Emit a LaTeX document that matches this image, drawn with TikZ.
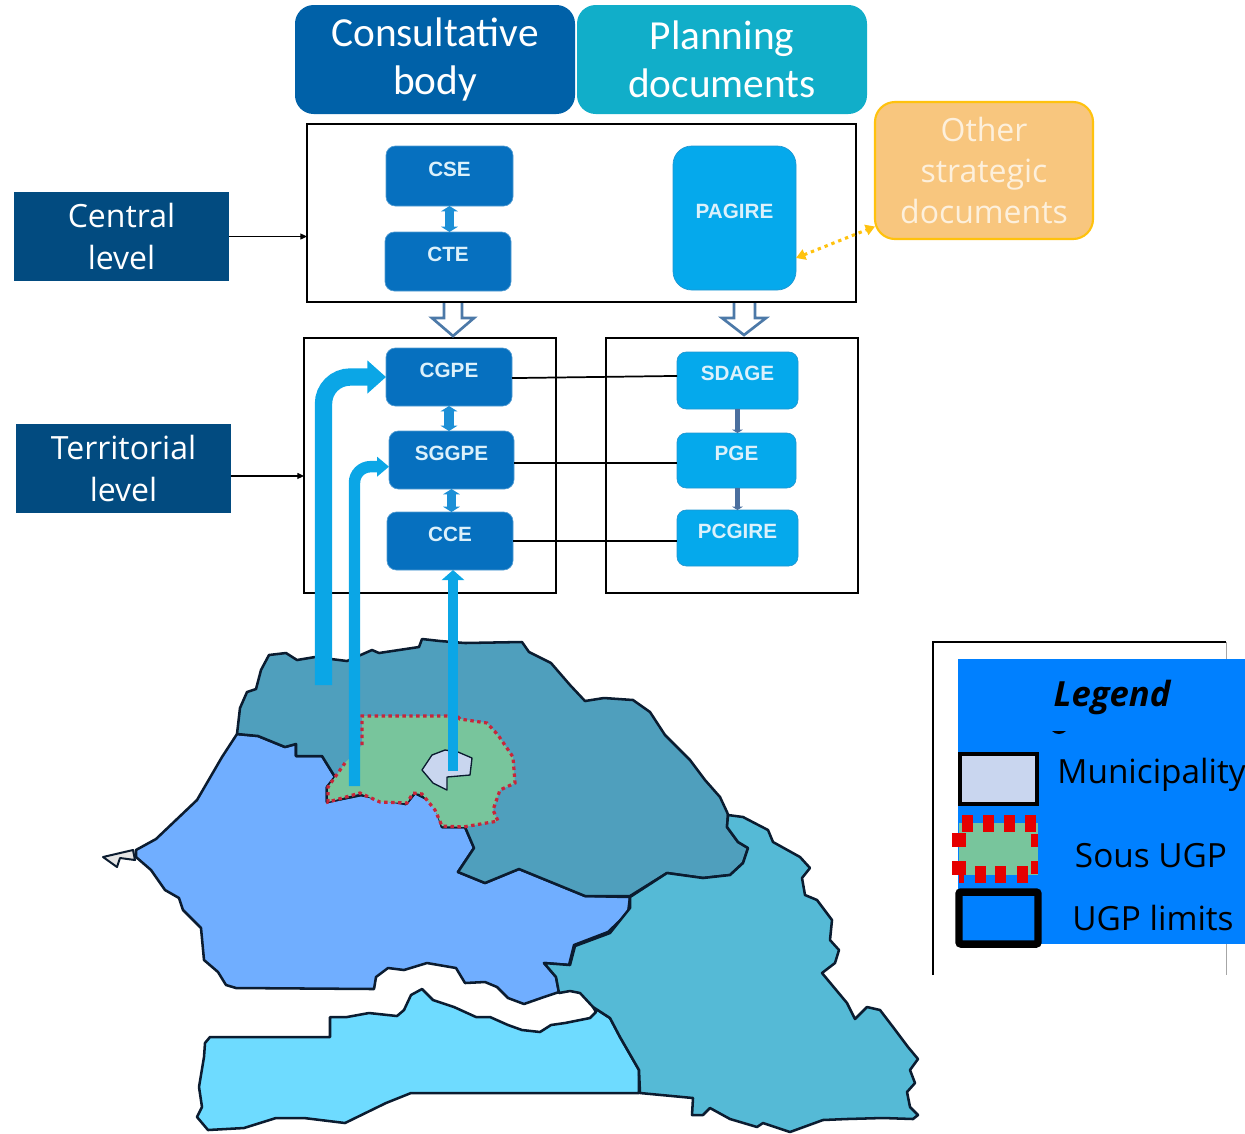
\documentclass[tikz,border=0pt]{standalone}
\usepackage{fontspec}
\setmainfont{Open Sans}
\newfontfamily\hdfont{Carlito}
\newfontfamily\bxfont{Liberation Sans}
\usetikzlibrary{arrows.meta,calc}
\definecolor{hdA}{HTML}{0061A8}
\definecolor{hdB}{HTML}{11AEC9}
\definecolor{lvl}{HTML}{024B80}
\definecolor{boxD}{HTML}{0670BF}
\definecolor{boxL}{HTML}{05A9EC}
\definecolor{bxtxt}{HTML}{DCF1FB}
\definecolor{orgF}{HTML}{F8C67E}
\definecolor{orgD}{HTML}{FFC20E}
\definecolor{orgT}{HTML}{FDF0DC}
\definecolor{barC}{HTML}{0BA6E6}
\definecolor{dblC}{HTML}{1C8FD6}
\definecolor{linkC}{HTML}{4A6F9E}
\definecolor{hollow}{HTML}{4C79A8}
\definecolor{mapN}{HTML}{4F9FBD}
\definecolor{mapW}{HTML}{70AEFF}
\definecolor{mapE}{HTML}{55BAD6}
\definecolor{mapS}{HTML}{6EDBFF}
\definecolor{mapL}{HTML}{0B1C30}
\definecolor{sousG}{HTML}{78C59C}
\definecolor{sousR}{HTML}{C8253A}
\definecolor{muni}{HTML}{C9D6EF}
\definecolor{legB}{HTML}{0080FF}
\definecolor{legR}{HTML}{E60000}
\newcommand{\pxbox}[7]{%
  \pgfmathsetmacro\cxx{(#4+#6)/2}\pgfmathsetmacro\cyy{(#5+#7)/2}%
  \pgfmathsetmacro\wdd{(#6-#4)*0.75}\pgfmathsetmacro\htt{(#7-#5)*0.75}%
  \node[#1,minimum width=\wdd pt,minimum height=\htt pt] (#2) at (\cxx,\cyy) {#3};}
\tikzset{
  allbox/.style={inner sep=0pt,outer sep=0pt,align=center},
  header/.style={allbox,rounded corners=14pt,text=white,font=\hdfont\fontsize{31}{36}\selectfont},
  level/.style={allbox,fill=lvl,text=white,font=\fontsize{24}{31}\selectfont},
  frame/.style={allbox,draw=black,line width=1.6pt},
  darkbox/.style={allbox,fill=boxD,draw=boxD!70!white,line width=.5pt,rounded corners=7pt,text=bxtxt,font=\bxfont\bfseries\fontsize{15.5}{18}\selectfont},
  lightbox/.style={darkbox,fill=boxL,draw=boxL!60!hollow},
  otherbox/.style={allbox,fill=orgF,draw=orgD,line width=1.6pt,rounded corners=15pt,text=orgT,font=\fontsize{24}{31}\selectfont},
  thinarrow/.style={draw=black,line width=.9pt,-{Triangle[length=5pt,width=4.5pt]}},
  hline/.style={draw=black,line width=1.3pt},
  dblarrow/.style={draw=dblC,line width=7pt,{Triangle[length=4pt,width=12.5pt]}-{Triangle[length=4pt,width=12.5pt]}},
  linkarrow/.style={draw=linkC,line width=3.8pt,-{Triangle[length=2.5pt,width=8pt]}},
  hollowarrow/.style={draw=hollow,fill=white,line width=2pt,line join=miter},
  mapline/.style={draw=mapL,line width=1.9pt,line join=round},
  legtext/.style={inner sep=0pt,text=black,font=\fontsize{25}{30}\selectfont},
}
\begin{document}
\begin{tikzpicture}[x=0.75pt,y=-0.75pt]
\useasboundingbox (0,0) rectangle (1245,1133);
% map
\draw[mapline,fill=mapS] (639,1093)--(639,1070)--(620,1037)--(610,1018)--(593,1007)--(596,1012)--(590,1018)--(565,1023)--(551,1025)--(540,1032)--(522,1030)--(508,1025)--(490,1017)--(476,1017)--(454,1007)--(433,1000)--(422,989)--(411,995)--(404,1010)--(397,1016)--(369,1013)--(347,1017)--(330,1017)--(330,1037)--(210,1037)--(205,1043)--(204,1057)--(199,1087)--(202,1107)--(197,1117)--(208,1130)--(244,1128)--(276,1118)--(304,1118)--(345,1123)--(386,1103)--(411,1093)--cycle;
\draw[mapline,fill=mapW] (237,734)--(222,757)--(197,800)--(156,839)--(136,850)--(136,857)--(151,870)--(165,890)--(179,898)--(183,910)--(201,928)--(204,960)--(218,972)--(226,985)--(236,988)--(374,989)--(376,977)--(388,968)--(404,970)--(427,963)--(456,968)--(465,983)--(485,982)--(497,987)--(508,998)--(524,1004)--(544,997)--(559,992)--(556,977)--(544,963)--(569,965)--(574,945)--(608,932)--(628,913)--(630,897)--(585,896)--(519,869)--(485,883)--(458,872)--(474,848)--(465,827)--(442,827)--(435,803)--(415,793)--(406,804)--(361,795)--(327,802)--(327,787)--(335,777)--(322,756)--(296,756)--(296,744)--(285,747)--(258,736)--cycle;
\draw[mapline,fill=mapN] (237,734)--(240,708)--(247,692)--(256,689)--(261,670)--(269,655)--(286,653)--(297,660)--(315,657)--(347,661)--(372,650)--(379,653)--(419,647)--(422,639)--(440,641)--(465,643)--(522,642)--(529,652)--(551,663)--(570,685)--(585,701)--(604,698)--(633,700)--(650,712)--(665,735)--(690,760)--(705,780)--(720,797)--(727,812)--(728,815)--(727,827)--(738,842)--(748,848)--(743,863)--(730,875)--(703,878)--(667,873)--(630,896)--(585,896)--(519,869)--(485,883)--(458,872)--(474,848)--(465,827)--(442,827)--(435,803)--(415,793)--(406,804)--(361,795)--(327,802)--(327,787)--(335,777)--(322,756)--(296,756)--(296,744)--(285,747)--(258,736)--cycle;
\draw[mapline,fill=mapE] (630,897)--(667,873)--(703,878)--(730,875)--(743,863)--(748,848)--(738,842)--(727,827)--(728,815)--(743,817)--(768,830)--(773,842)--(800,857)--(810,868)--(802,878)--(805,895)--(817,900)--(832,920)--(830,940)--(839,950)--(835,963)--(822,973)--(847,1003)--(855,1019)--(867,1007)--(880,1010)--(893,1027)--(908,1047)--(918,1059)--(910,1070)--(915,1083)--(907,1092)--(910,1107)--(918,1115)--(913,1119)--(883,1118)--(847,1119)--(823,1120)--(790,1132)--(763,1123)--(757,1127)--(730,1119)--(710,1108)--(703,1115)--(692,1115)--(693,1098)--(640,1093)--(639,1070)--(620,1037)--(610,1018)--(593,1007)--(580,993)--(570,991)--(559,993)--(556,977)--(544,963)--(570,965)--(575,946)--(610,933)--(630,908)--cycle;
\draw[mapline,fill=white!90!black,line width=1.5pt] (103,857)--(133,850)--(135,860)--(120,858)--(117,867)--cycle;
\fill[sousG] (362,716)--(457,716)--(460,719)--(487,723)--(498,735)--(513,757)--(515,783)--(500,790)--(493,810)--(498,821)--(463,827)--(442,826)--(435,810)--(422,794)--(413,793)--(407,803)--(380,802)--(360,793)--(328,802)--(328,787)--(345,763)--(362,745)--cycle;
\draw[sousR,line width=2.4pt,dash pattern=on 2.6pt off 2.6pt] (362,745)--(362,716)--(457,716)--(460,719)--(487,723)--(498,735)--(513,757)--(515,783)--(500,790)--(493,810)--(498,821)--(463,827)--(442,826)--(435,810)--(422,794)--(413,793)--(407,803)--(380,802)--(360,793)--(328,802)--(328,787)--(345,763);
\draw[draw=mapL,fill=muni,line width=1pt,line join=round] (445,750)--(458,752)--(472,758)--(470,775)--(447,777)--(447,790)--(433,783)--(422,770)--(432,755)--cycle;
% headers
\pxbox{header,fill=hdA}{cons}{Consultative\\body}{295}{5}{575}{114}
\pxbox{header,fill=hdB}{plan}{Planning\\documents}{577}{5}{867}{114}
% frames
\pxbox{frame}{topframe}{}{307}{124}{856}{302}
\pxbox{frame}{leftframe}{}{304}{338}{556}{593}
\pxbox{frame}{rightframe}{}{606}{338}{858}{593}
% level boxes
\pxbox{level}{central}{Central\\level}{14}{192}{229}{281}
\pxbox{level}{terr}{Territorial\\level}{16}{424}{231}{513}
\draw[thinarrow] (central.east) -- (central.east -| topframe.west);
\draw[thinarrow] ([yshift=-5.6pt]terr.east) -- ([yshift=-5.6pt]terr.east -| leftframe.west);
% boxes
\pxbox{darkbox}{cse}{\smash{CSE}}{386}{146}{513}{206}
\pxbox{darkbox}{cte}{\smash{CTE}}{385}{232}{511}{291}
\pxbox{darkbox}{cgpe}{\smash{CGPE}}{386}{348}{512}{406}
\pxbox{darkbox}{sggpe}{\smash{SGGPE}}{389}{431}{514}{489}
\pxbox{darkbox}{cce}{\smash{CCE}}{387}{512}{513}{570}
\pxbox{lightbox,rounded corners=14pt}{pagire}{\smash{PAGIRE}}{673}{146}{796}{290}
\pxbox{lightbox}{sdage}{\smash{SDAGE}}{677}{352}{798}{409}
\pxbox{lightbox}{pge}{\smash{PGE}}{677}{433}{796}{488}
\pxbox{lightbox}{pcgire}{\smash{PCGIRE}}{677}{510}{798}{566}
\pxbox{otherbox}{other}{Other\\strategic\\documents}{875}{102}{1093}{239}
% connectors
\draw[hline] (cgpe.east) ++(0,-.8pt) -- ($(cgpe.east -| sdage.west)+(0,.8pt)$);
\draw[hline] ([yshift=-2.2pt]sggpe.east) -- ([yshift=-2.2pt]sggpe.east -| pge.west);
\draw[hline] (cce.east) -- (pcgire.west |- cce.east);
\draw[dblarrow] (cse.south) -- (cse.south |- cte.north);
\draw[dblarrow] (cgpe.south) -- (cgpe.south |- sggpe.north);
\draw[dblarrow] (sggpe.south) -- (sggpe.south |- cce.north);
\draw[linkarrow] (sdage.south) -- (sdage.south |- pge.north);
\draw[linkarrow] (sdage.south |- pge.south) -- (sdage.south |- pcgire.north);
\draw[draw=orgD,line width=2.3pt,dash pattern=on 2.5pt off 3pt,{Triangle[length=7pt,width=8pt]}-{Triangle[length=7pt,width=8pt]}] ([yshift=-30pt]pagire.east) -- ([yshift=-42pt]other.west);
% hollow arrows
\draw[hollowarrow] (444,303)--(444,318)--(432,318)--(453,336)--(474,318)--(462,318)--(462,303);
\draw[hollowarrow] (734,303)--(734,318)--(722,318)--(744,335)--(766,318)--(755,318)--(755,303);
% block arrows from the map
\coordinate (bar1) at (323.5,685);
\coordinate (bar2) at (354.5,786);
\coordinate (bar3) at (453,771);
\draw[draw=barC,line width=13pt,rounded corners=20pt,-{Triangle[length=14pt,width=24pt]}] (bar1) |- (cgpe.west);
\draw[draw=barC,line width=8.6pt,rounded corners=12pt,-{Triangle[length=9pt,width=14.5pt]}] (bar2) |- ([yshift=-5pt]sggpe.west);
\draw[draw=barC,line width=8.2pt,-{Triangle[length=7.5pt,width=16.5pt]}] (bar3) -- (bar3 |- cce.south);
% legend frame
\draw[black,line width=1.5pt] (933,975)--(933,642)--(1226,642);
\draw[black!35,line width=.7pt] (1226,642)--(1226,975);
\fill[legB] (958,659) rectangle (1245,944);
\fill[black] (1052,731) .. controls (1056,735) and (1062,735) .. (1066,731) -- cycle;
\pxbox{allbox,draw=black,line width=2.7pt,fill=muni}{swm}{}{960}{754}{1037}{804}
\fill[sousG] (959,823) rectangle (1038,875);
\foreach \a in {962,983,1004,1025}{\fill[legR] (\a,815) rectangle ++(10.5,17);}
\foreach \a in {975,995,1017}{\fill[legR] (\a,866) rectangle ++(10.5,17);}
\foreach \a/\b in {952/833,952/861}{\fill[legR] (\a,\b) rectangle ++(13.5,13.5);}
\foreach \a/\b in {1031/834,1031/861}{\fill[legR] (\a,\b) rectangle ++(7,13);}
\fill[legR] (959,875) rectangle ++(5,8);
\pxbox{allbox,draw=black,line width=5.6pt,rounded corners=1.5pt,fill=legB}{swu}{}{959}{892}{1038}{944}
\node[legtext,font=\bfseries\itshape\fontsize{26}{30}\selectfont] (legtitle) at (1112,697) {Legend};
\node[legtext] (lm) at (1151.5,775) {Municipality};
\node[legtext] (ls) at (1151,856) {Sous UGP};
\node[legtext] (lu) at (1153,918) {UGP limits};
\end{tikzpicture}
\end{document}
